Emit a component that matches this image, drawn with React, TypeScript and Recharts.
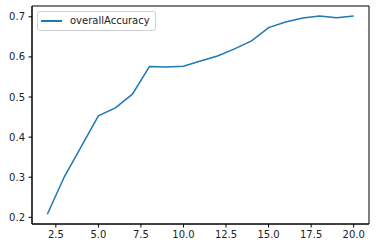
import { LineChart, Line, XAxis, YAxis, Legend, ReferenceArea } from 'recharts';

// epochs on the x axis and the accuracy
const epochs = [2, 3, 4, 5, 6, 7, 8, 9, 10, 11, 12, 13, 14, 15, 16, 17, 18, 19, 20];
const overallAccuracy = [
  0.2075, 0.301, 0.377, 0.453, 0.473, 0.507, 0.576, 0.575, 0.577, 0.59,
  0.6025, 0.62, 0.64, 0.673, 0.687, 0.697, 0.702, 0.698, 0.702,
];
const xTicks = [2.5, 5, 7.5, 10, 12.5, 15, 17.5, 20];
const yTicks = [0.2, 0.3, 0.4, 0.5, 0.6, 0.7];

const X_DOMAIN: [number, number] = [1.1, 20.9];
const Y_DOMAIN: [number, number] = [0.1833, 0.727];

const data = epochs.map((e, i) => ({ epoch: e, overallAccuracy: overallAccuracy[i] }));

const FONT = '"DejaVu Sans", sans-serif';
const tickStyle = { fontSize: 10, fill: '#222', fontFamily: FONT };

function LegendBox() {
  return (
    <div
      style={{
        display: 'flex',
        alignItems: 'center',
        border: '1px solid #d0d0d0',
        borderRadius: 3,
        background: 'rgba(255,255,255,0.8)',
        padding: '3px 5px 3px 3px',
        fontFamily: FONT,
        fontSize: 10,
        color: '#222',
        lineHeight: '12px',
      }}
    >
      <span style={{ display: 'inline-block', width: 21, height: 2, background: '#1f77b4', marginRight: 8 }} />
      <span>overallAccuracy</span>
    </div>
  );
}

export default function App() {
  return (
    <div style={{ position: 'absolute', left: 0, top: 0, background: '#fff' }}>
      <LineChart width={377} height={250} data={data} margin={{ top: 6, right: 8, bottom: 0, left: 0 }}>
        <XAxis
          dataKey="epoch"
          type="number"
          domain={X_DOMAIN}
          ticks={xTicks}
          tickFormatter={(v: number) => v.toFixed(1)}
          height={26}
          tickSize={3.5}
          tickMargin={3.5}
          tick={tickStyle}
          axisLine={{ stroke: '#000', strokeWidth: 1 }}
          tickLine={{ stroke: '#000' }}
          allowDataOverflow
        />
        <YAxis
          type="number"
          domain={Y_DOMAIN}
          ticks={yTicks}
          tickFormatter={(v: number) => v.toFixed(1)}
          width={32}
          tickSize={3.5}
          tickMargin={3.5}
          tick={tickStyle}
          axisLine={{ stroke: '#000', strokeWidth: 1 }}
          tickLine={{ stroke: '#000' }}
          allowDataOverflow
        />
        {/* full box around the plot, like matplotlib spines */}
        <ReferenceArea
          x1={X_DOMAIN[0]}
          x2={X_DOMAIN[1]}
          y1={Y_DOMAIN[0]}
          y2={Y_DOMAIN[1]}
          fill="none"
          fillOpacity={0}
          stroke="#000"
          strokeWidth={1}
        />
        <Legend
          layout="horizontal"
          verticalAlign="middle"
          align="center"
          wrapperStyle={{ top: 11, left: 37, width: 'auto' }}
          content={() => <LegendBox />}
        />
        <Line
          dataKey="overallAccuracy"
          stroke="#1f77b4"
          strokeWidth={1.5}
          dot={false}
          activeDot={false}
          isAnimationActive={false}
        />
      </LineChart>
    </div>
  );
}
